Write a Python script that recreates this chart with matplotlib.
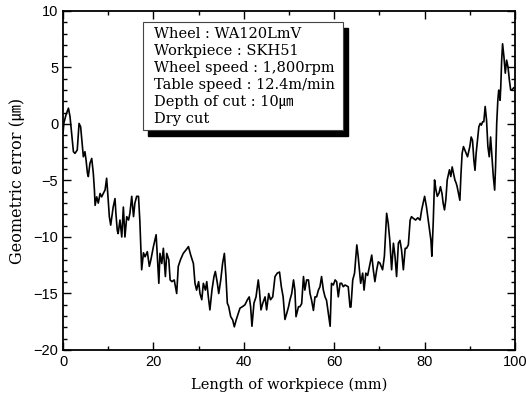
import matplotlib
matplotlib.use("Agg")
import matplotlib.pyplot as plt
from matplotlib.patches import Rectangle
from matplotlib.ticker import MultipleLocator

# ---- data ----
length_mm = [
    0.0, 0.2, 0.65, 1.2, 1.55, 1.9, 2.3, 2.65, 3.15, 3.55, 3.9, 4.15, 4.5, 4.85, 5.1, 5.4, 5.6, 5.95,
    6.35, 6.7, 6.95, 7.1, 7.45, 7.8, 8.2, 8.55, 8.9, 9.3, 9.65, 9.9, 10.25, 10.55, 10.9, 11.1, 11.5,
    11.7, 12.0, 12.2, 12.6, 13.0, 13.35, 13.7, 14.1, 14.5, 14.8, 15.2, 15.6, 15.9, 16.3, 16.7, 17.0,
    17.4, 17.8, 18.15, 18.65, 19.1, 19.45, 20.0, 20.6, 20.95, 21.2, 21.45, 21.85, 22.2, 22.65, 22.95,
    23.4, 23.7, 24.1, 24.6, 25.15, 25.5, 26.0, 26.6, 27.2, 27.75, 28.25, 28.85, 29.2, 29.55, 30.0,
    30.3, 30.7, 31.05, 31.5, 31.8, 32.15, 32.5, 32.95, 33.4, 33.7, 34.15, 34.45, 34.9, 35.3, 35.7,
    36.05, 36.35, 36.65, 37.1, 37.55, 37.9, 38.3, 38.8, 39.15, 39.75, 40.25, 40.8, 41.2, 41.5, 41.8,
    42.25, 42.7, 43.2, 43.45, 43.8, 44.2, 44.7, 45.05, 45.5, 45.9, 46.4, 46.9, 47.4, 47.9, 48.3, 48.7,
    49.1, 49.5, 49.9, 50.2, 50.6, 51.0, 51.3, 51.55, 52.1, 52.4, 52.8, 53.2, 53.5, 53.9, 54.3, 54.65,
    55.0, 55.4, 55.75, 56.1, 56.5, 56.85, 57.2, 57.6, 57.97, 58.3, 58.7, 59.1, 59.4, 59.8, 60.2, 60.55,
    60.9, 61.3, 61.65, 62.0, 62.4, 63.1, 63.5, 63.7, 64.1, 64.5, 65.0, 65.3, 65.85, 66.3, 66.6, 67.0,
    67.4, 67.8, 68.3, 68.65, 69.0, 69.4, 69.75, 70.1, 70.7, 71.1, 71.6, 71.95, 72.3, 72.7, 73.1, 73.45,
    73.8, 74.2, 74.55, 74.9, 75.3, 75.7, 76.0, 76.4, 76.8, 77.1, 77.5, 78.0, 78.5, 79.0, 79.35, 80.0,
    80.4, 80.9, 81.4, 81.6, 81.9, 82.2, 82.5, 82.8, 83.2, 83.5, 83.85, 84.1, 84.4, 84.7, 85.0, 85.3,
    85.5, 85.8, 86.1, 86.4, 86.7, 87.0, 87.2, 87.5, 87.8, 88.05, 88.3, 88.6, 88.9, 89.2, 89.5, 89.75,
    90.0, 90.3, 90.6, 90.9, 91.15, 91.4, 91.7, 92.0, 92.3, 92.55, 92.85, 93.1, 93.4, 93.7, 94.0, 94.3,
    94.6, 94.9, 95.2, 95.5, 95.7, 95.95, 96.2, 96.4, 96.55, 96.7, 96.85, 97.05, 97.25, 97.55, 97.85,
    98.15, 98.45, 98.75, 99.05, 99.3, 99.7,
]
error_um = [
    -0.8, 0.1, 0.8, 1.4, 0.65, -0.8, -2.45, -2.6, -2.3, 0.05, -0.25, -1.4, -2.9, -2.45, -3.2, -4.35,
    -4.65, -3.5, -3.05, -4.35, -5.85, -7.2, -6.45, -7.0, -6.15, -6.45, -6.15, -5.85, -4.8, -6.15, -8.2,
    -8.95, -7.9, -7.35, -6.6, -7.9, -9.4, -9.7, -8.5, -10.0, -7.35, -10.0, -8.2, -8.5, -7.9, -6.4,
    -8.2, -7.0, -6.4, -6.4, -8.6, -12.9, -11.4, -11.75, -11.3, -12.6, -12.0, -10.85, -9.8, -12.3,
    -14.1, -11.45, -12.35, -11.0, -13.5, -11.45, -12.0, -13.8, -13.95, -13.8, -15.0, -12.6, -12.0,
    -11.45, -11.15, -10.85, -11.6, -12.35, -14.1, -14.7, -13.95, -15.0, -15.55, -14.1, -14.7, -13.95,
    -15.3, -16.45, -14.7, -13.5, -13.05, -14.1, -15.0, -13.8, -12.35, -11.45, -13.5, -15.85, -16.15,
    -17.05, -17.35, -17.95, -17.35, -16.75, -16.3, -16.15, -16.0, -15.55, -15.3, -16.15, -17.9,
    -15.85, -15.3, -13.8, -14.7, -16.45, -15.85, -15.3, -16.45, -15.0, -15.55, -15.3, -13.5, -13.2,
    -13.1, -14.4, -15.3, -17.3, -16.76, -16.17, -15.58, -15.0, -13.8, -14.7, -17.05, -16.17, -16.17,
    -15.9, -13.5, -14.7, -13.8, -13.8, -15.0, -15.6, -16.5, -15.3, -15.3, -14.7, -14.4, -13.5, -14.7,
    -15.3, -15.6, -16.76, -17.9, -14.1, -14.25, -13.8, -13.96, -15.3, -14.1, -14.1, -14.4, -14.25,
    -14.4, -16.2, -16.2, -13.8, -13.2, -10.7, -11.7, -14.1, -13.2, -14.7, -13.2, -13.4, -12.6, -11.6,
    -12.9, -13.95, -12.9, -12.2, -12.3, -12.9, -11.7, -7.9, -8.8, -10.3, -12.9, -10.55, -11.7, -13.5,
    -10.55, -10.3, -11.15, -12.9, -11.0, -11.0, -10.7, -8.5, -8.2, -8.35, -8.5, -8.3, -8.5, -7.6,
    -6.4, -7.3, -8.8, -10.3, -11.7, -8.8, -4.95, -5.8, -6.4, -6.1, -5.55, -6.15, -7.0, -7.6, -6.7,
    -4.95, -4.4, -4.05, -4.65, -3.8, -4.4, -4.95, -5.25, -5.55, -6.15, -6.75, -4.4, -2.6, -2.0, -2.3,
    -2.6, -2.9, -2.45, -2.0, -1.15, -1.45, -3.2, -4.1, -2.6, -1.4, -0.25, 0.05, -0.1, 0.2, 0.2, 1.55,
    0.35, -2.0, -2.9, -1.15, -2.9, -4.65, -5.85, -3.8, 0.05, 2.1, 3.0, 2.7, 2.1, 3.3, 5.65, 7.1, 5.95,
    4.5, 5.65, 5.05, 3.9, 3.0, 3.0, 3.2,
]
x_ticks = [0, 20, 40, 60, 80, 100]
y_ticks = [-20, -15, -10, -5, 0, 5, 10]
info_lines = [
    "Wheel : WA120LmV",
    "Workpiece : SKH51",
    "Wheel speed : 1,800rpm",
    "Table speed : 12.4m/min",
    "Depth of cut : 10\u339b",
    "Dry cut",
]

serif = ["DejaVu Serif", "Noto Sans CJK KR"]
sans = ["Liberation Sans", "DejaVu Sans"]

fig = plt.figure(figsize=(5.26, 3.97), dpi=100)
ax = fig.add_axes([0.1198, 0.1184, 0.8593, 0.8539])

ax.plot(length_mm, error_um, color="black", lw=1.2)

ax.set_xlim(0, 100)
ax.set_ylim(-20, 10)
ax.set_xticks(x_ticks)
ax.set_yticks(y_ticks)
ax.xaxis.set_minor_locator(MultipleLocator(10))
ax.yaxis.set_minor_locator(MultipleLocator(1))
ax.tick_params(which="both", direction="in", top=True, right=True, width=1.0)
ax.tick_params(which="major", length=6)
ax.tick_params(which="minor", length=3)
for lab in ax.get_xticklabels() + ax.get_yticklabels():
    lab.set_family(sans)
    lab.set_fontsize(10.5)
for s in ax.spines.values():
    s.set_linewidth(1.3)

ax.set_xlabel("Length of workpiece (mm)", family=serif, fontsize=10.5, labelpad=6)
ax.set_ylabel("Geometric error (\u339b)", family=serif, fontsize=11.5, labelpad=5)

# info box with drop shadow
bx0, by0, bw, bh = 0.177, 0.649, 0.442, 0.319
ax.add_patch(Rectangle((bx0 + 0.012, by0 - 0.018), bw, bh, transform=ax.transAxes,
                       facecolor="black", edgecolor="black", zorder=4))
ax.add_patch(Rectangle((bx0, by0), bw, bh, transform=ax.transAxes,
                       facecolor="white", edgecolor="#444444", lw=0.8, zorder=5))
ax.text(bx0 + 0.024, by0 + bh - 0.014, "\n".join(info_lines), transform=ax.transAxes,
        family=serif, fontsize=10.5, va="top", ha="left", linespacing=1.28, zorder=6)

fig.savefig("out.png", dpi=100)
